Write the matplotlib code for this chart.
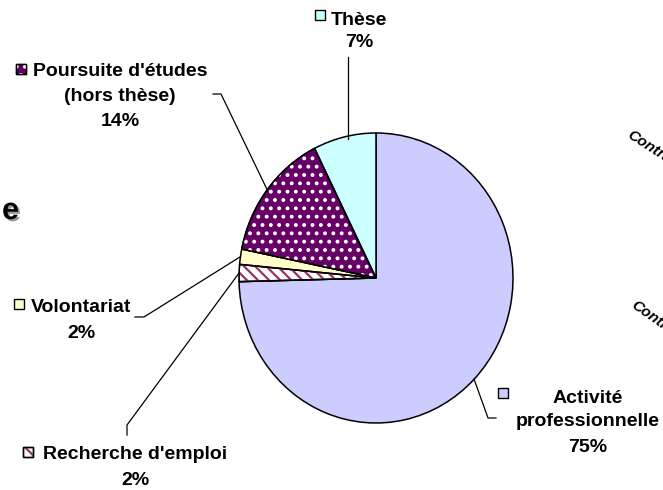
import numpy as np
import matplotlib
matplotlib.use("Agg")
import matplotlib.pyplot as plt
import matplotlib.patheffects as pe
from matplotlib.patches import Wedge, Rectangle

plt.rcParams['font.family'] = ['Liberation Sans', 'DejaVu Sans']
plt.rcParams['hatch.linewidth'] = 1.6

# data (clockwise from the top)
labels = ["Activité\nprofessionnelle", "Recherche d'emploi", "Volontariat",
          "Poursuite d'études\n(hors thèse)", "Thèse"]
values = [74.6, 1.9, 1.7, 14.4, 7.4]
colors = ['#CCCCFF', '#FFFFFF', '#FFFFCC', '#660066', '#CCFFFF']
hatches = [None, '\\\\\\', None, '..', None]
hatch_colors = [None, '#993366', None, '#FFFFFF', None]

W, H = 663, 490
cx, cy, a, b = 376, 278, 137, 145   # pie centre and radii in pixels

fig = plt.figure(figsize=(W / 100, H / 100), dpi=100)

# pie axes (slightly taller than wide, like the original)
axp = fig.add_axes([(cx - a) / W, (H - cy - b) / H, 2 * a / W, 2 * b / H])
wedges, _ = axp.pie(values, colors=colors, startangle=90, counterclock=False,
                    radius=1, wedgeprops=dict(edgecolor='black', linewidth=1.1))
for w, h, hc in zip(wedges, hatches, hatch_colors):
    if h:
        axp.add_patch(Wedge(w.center, w.r, w.theta1, w.theta2, facecolor='none',
                            edgecolor=hc, hatch=h, linewidth=0, zorder=w.get_zorder() + 0.1))
        axp.add_patch(Wedge(w.center, w.r, w.theta1, w.theta2, facecolor='none',
                            edgecolor='black', linewidth=1.1, zorder=w.get_zorder() + 0.2))
axp.set_aspect('auto')
axp.set_xlim(-1, 1)
axp.set_ylim(-1, 1)
axp.axis('off')

# overlay in pixel coordinates (origin top-left)
ax = fig.add_axes([0, 0, 1, 1])
ax.set_xlim(0, W)
ax.set_ylim(H, 0)
ax.axis('off')


def edge_point(w):
    t = np.deg2rad((w.theta1 + w.theta2) / 2)
    return cx + a * np.cos(t), cy - b * np.sin(t)


# label layout: key square (x, y), text centre x, baselines, leader points
layout = [
    dict(sq=(498, 388), tx=588, base=[403, 426, 452], lead=[(496, 418), (488, 418)]),
    dict(sq=(23, 447), tx=135, base=[459, 485], lead=[(127, 435), (127, 425)]),
    dict(sq=(14, 299), tx=81, base=[312, 338], lead=[(135, 317), (144, 317)]),
    dict(sq=(16, 64), tx=120, base=[76, 101, 126], lead=[(213, 94), (221, 94)]),
    dict(sq=(315, 10), tx=359, base=[25, 47], lead=[(348, 57)]),
]

fs = 14
for w, lab, v, col, h, hc, lay in zip(wedges, labels, values, colors,
                                      hatches, hatch_colors, layout):
    lines = lab.split('\n') + [f"{v:.0f}%"]
    for txt, yb in zip(lines, lay['base']):
        ax.text(lay['tx'], yb, txt, ha='center', va='baseline',
                fontsize=fs, fontweight='bold', color='black')
    sx, sy = lay['sq']
    ax.add_patch(Rectangle((sx, sy), 10, 10, facecolor=col, edgecolor='black', lw=1))
    if h:
        ax.add_patch(Rectangle((sx, sy), 10, 10, facecolor='none', edgecolor=hc,
                               hatch=h, lw=0))
        ax.add_patch(Rectangle((sx, sy), 10, 10, facecolor='none', edgecolor='black', lw=1))
    if len(lay['lead']) == 1:
        ex, ey = edge_point(w)
        pts = [lay['lead'][0], (lay['lead'][0][0], ey + 2)]
    else:
        pts = lay['lead'] + [edge_point(w)]
    xs, ys = zip(*pts)
    ax.plot(xs, ys, color='black', lw=0.9)

# fragments of neighbouring charts cut by the frame
ax.text(19, 219, "e", ha='right', va='baseline', fontsize=22,
        fontweight='bold', color='black',
        path_effects=[pe.SimplePatchShadow(offset=(1.5, -1.5), shadow_rgbFace='#999999',
                                           alpha=1), pe.Normal()])
ax.text(628, 134, "Contrat", rotation=-33, rotation_mode='anchor', ha='left',
        va='center', fontsize=11, fontweight='bold', fontstyle='italic')
ax.text(633, 304, "Contrat", rotation=-35, rotation_mode='anchor', ha='left',
        va='center', fontsize=11, fontweight='bold', fontstyle='italic')

fig.savefig("out.png", dpi=100)
